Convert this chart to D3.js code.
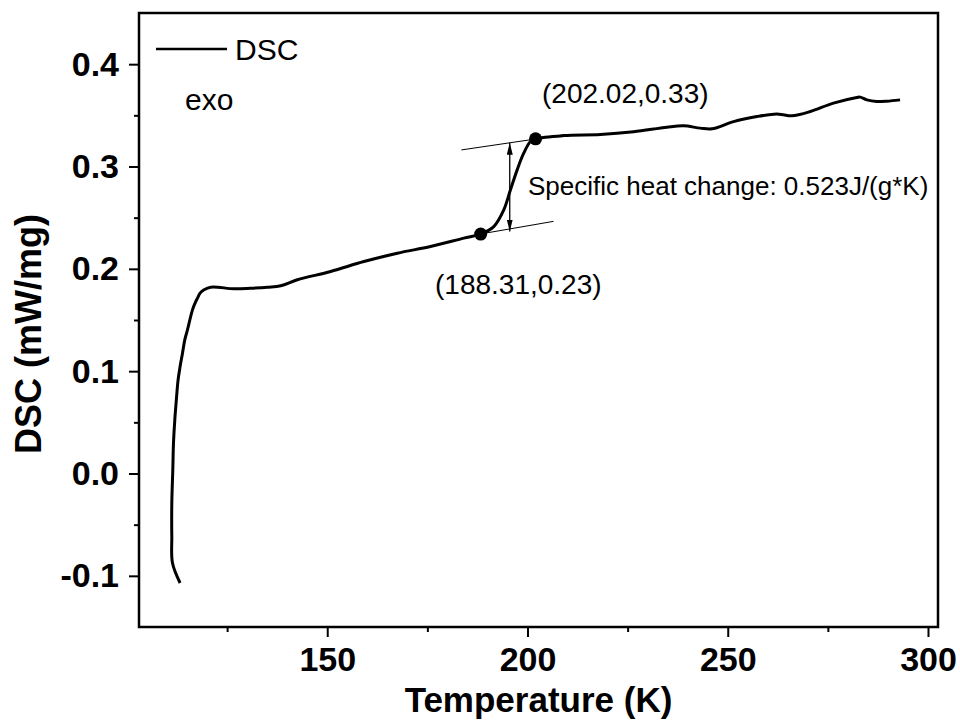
<!DOCTYPE html>
<meta charset="utf-8">
<svg width="960" height="722"></svg>
<script src="https://d3js.org/d3.v7.min.js"></script>
<style>
  body {
    margin: 0;
    background: #fff;
  }
  svg {
    font-family: "Liberation Sans", Arial, sans-serif;
  }
  .axis .domain {
    display: none;
  }
  .axis line {
    stroke: #000;
    stroke-width: 2px;
  }
  .axis text {
    font-size: 34px;
    font-weight: bold;
    fill: #000;
  }
  .dsc-line {
    fill: none;
    stroke: #000;
    stroke-width: 3px;
  }
</style>
<script>
// DSC trace (K, mW/mg)
var temperature = [113.26, 111.36, 111.19, 111.19, 111.44, 111.61, 111.94, 112.26, 112.76, 113.26,
                   113.86, 114.43, 115.10, 116.35, 117.00, 117.60, 118.25, 119.24, 120.91, 126.73,
                   130.89, 135.06, 138.38, 142.54, 150.85, 159.15, 167.49, 175.79, 184.10, 188.31,
                   191.58, 194.08, 195.75, 197.42, 199.06, 200.74, 202.02, 209.04, 218.20, 226.50,
                   234.83, 238.98, 243.14, 246.06, 251.45, 257.28, 262.27, 263.92, 266.01, 270.58,
                   276.39, 282.23, 283.05, 284.72, 287.21, 289.71, 293.03];
var dsc = [-0.107, -0.0875, -0.0616, -0.0290, 0.0036, 0.0297, 0.0525, 0.0688, 0.0915, 0.1045,
           0.1176, 0.1306, 0.1404, 0.1599, 0.1665, 0.1714, 0.1763, 0.1795, 0.1821, 0.1805,
           0.1811, 0.1821, 0.1834, 0.1893, 0.1974, 0.2071, 0.2153, 0.2218, 0.2300, 0.2340,
           0.2413, 0.2576, 0.2772, 0.2967, 0.3130, 0.3244, 0.3270, 0.3302, 0.3312, 0.3339,
           0.3384, 0.3397, 0.3375, 0.3368, 0.3439, 0.3488, 0.3514, 0.3505, 0.3495, 0.3537,
           0.3619, 0.3674, 0.3678, 0.3651, 0.3635, 0.3638, 0.3651];

var xTicks = [150, 200, 250, 300];
var xMinorTicks = [125, 175, 225, 275];
var yTicks = [-0.1, 0.0, 0.1, 0.2, 0.3, 0.4];
var yMinorTicks = [-0.05, 0.05, 0.15, 0.25, 0.35];

// glass transition markers
var onsetPoints = [[188.31, 0.234], [202.02, 0.327]];
var onsetLabels = ["(188.31,0.23)", "(202.02,0.33)"];
var upperTangent = [[183.5, 0.3162], [209.0, 0.3309]];
var lowerTangent = [[188.5, 0.2342], [206.5, 0.2464]];
var arrowSpan = [[195.57, 0.3231], [195.57, 0.2364]];
var heatLabel = "Specific heat change: 0.523J/(g*K)";

var svg = d3.select("svg"),
    margin = {top: 13, right: 22, bottom: 95, left: 139},
    width = +svg.attr("width") - margin.left - margin.right,
    height = +svg.attr("height") - margin.top - margin.bottom,
    g = svg.append("g").attr("transform", "translate(" + margin.left + "," + margin.top + ")");

var x = d3.scaleLinear().domain([103, 302.5]).range([0, width]);
var y = d3.scaleLinear().domain([-0.15, 0.45]).range([height, 0]);

var defs = svg.append("defs");
defs.append("marker")
    .attr("id", "head")
    .attr("viewBox", "0 0 10 10")
    .attr("refX", 10)
    .attr("refY", 5)
    .attr("markerWidth", 12)
    .attr("markerHeight", 6)
    .attr("markerUnits", "userSpaceOnUse")
    .attr("orient", "auto-start-reverse")
    .attr("preserveAspectRatio", "none")
  .append("path")
    .attr("d", "M0,0L10,5L0,10Z")
    .attr("fill", "#000");

// axes
var yFormat = function(d) { return d3.format(".1f")(d).replace("\u2212", "-"); };

g.append("g")
    .attr("class", "x axis")
    .attr("transform", "translate(0," + height + ")")
    .call(d3.axisBottom(x).tickValues(xTicks).tickSize(10).tickPadding(10).tickFormat(d3.format("d")));

g.append("g")
    .attr("class", "x axis minor")
    .attr("transform", "translate(0," + height + ")")
    .call(d3.axisBottom(x).tickValues(xMinorTicks).tickSize(5).tickFormat(""));

g.append("g")
    .attr("class", "y axis")
    .call(d3.axisLeft(y).tickValues(yTicks).tickSize(10).tickPadding(10).tickFormat(yFormat));

g.append("g")
    .attr("class", "y axis minor")
    .call(d3.axisLeft(y).tickValues(yMinorTicks).tickSize(5).tickFormat(""));

// frame
g.append("rect")
    .attr("width", width)
    .attr("height", height)
    .attr("fill", "none")
    .attr("stroke", "#000")
    .attr("stroke-width", 2.5);

// curve
var line = d3.line()
    .x(function(d) { return x(d[0]); })
    .y(function(d) { return y(d[1]); })
    .curve(d3.curveCatmullRom.alpha(0.5));

g.append("path")
    .datum(d3.zip(temperature, dsc))
    .attr("class", "dsc-line")
    .attr("d", line);

// tangents
var straight = d3.line()
    .x(function(d) { return x(d[0]); })
    .y(function(d) { return y(d[1]); });

[upperTangent, lowerTangent].forEach(function(t) {
  g.append("path")
      .attr("d", straight(t))
      .attr("stroke", "#000")
      .attr("stroke-width", 1)
      .attr("fill", "none");
});

g.append("path")
    .attr("d", straight(arrowSpan))
    .attr("stroke", "#000")
    .attr("stroke-width", 1.3)
    .attr("marker-start", "url(#head)")
    .attr("marker-end", "url(#head)");

g.selectAll(".onset")
    .data(onsetPoints)
  .enter().append("circle")
    .attr("class", "onset")
    .attr("cx", function(d) { return x(d[0]); })
    .attr("cy", function(d) { return y(d[1]); })
    .attr("r", 6.5)
    .attr("fill", "#000");

// annotation texts
g.append("text")
    .attr("x", 296)
    .attr("y", 281)
    .style("font-size", "28px")
    .text(onsetLabels[0]);

g.append("text")
    .attr("x", 403)
    .attr("y", 90)
    .style("font-size", "28px")
    .text(onsetLabels[1]);

g.append("text")
    .attr("x", 389)
    .attr("y", 182)
    .style("font-size", "26px")
    .text(heatLabel);

// legend
g.append("line")
    .attr("x1", 17).attr("x2", 88)
    .attr("y1", 36).attr("y2", 36)
    .attr("stroke", "#000")
    .attr("stroke-width", 2.5);

g.append("text")
    .attr("x", 96)
    .attr("y", 47)
    .style("font-size", "30px")
    .text("DSC");

g.append("text")
    .attr("x", 46)
    .attr("y", 97)
    .style("font-size", "30px")
    .text("exo");

// axis titles
svg.append("text")
    .attr("x", margin.left + width / 2)
    .attr("y", 712)
    .attr("text-anchor", "middle")
    .style("font-size", "35px")
    .style("font-weight", "bold")
    .text("Temperature (K)");

svg.append("text")
    .attr("transform", "translate(41,334) rotate(-90)")
    .attr("text-anchor", "middle")
    .style("font-size", "36px")
    .style("font-weight", "bold")
    .text("DSC (mW/mg)");
</script>
